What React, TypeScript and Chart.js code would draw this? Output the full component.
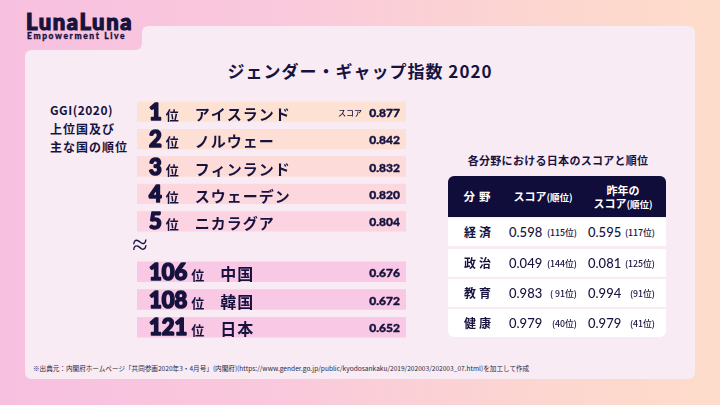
import React, { useEffect, useRef } from "react";
import { Chart, registerables } from "chart.js";

Chart.register(...registerables);

// ---- data ----
const topRanks = [1, 2, 3, 4, 5];
const topCountries = ["アイスランド", "ノルウェー", "フィンランド", "スウェーデン", "ニカラグア"];
const topScores = [0.877, 0.842, 0.832, 0.82, 0.804];
const topBand = [1, 1, 1, 1, 1];

const lowRanks = [106, 108, 121];
const lowCountries = ["中国", "韓国", "日本"];
const lowScores = [0.676, 0.672, 0.652];
const lowBand = [1, 1, 1];

const fields = ["経済", "政治", "教育", "健康"];
const score2020 = ["0.598", "0.049", "0.983", "0.979"];
const rank2020 = ["(115位)", "(144位)", "( 91位)", "(40位)"];
const scorePrev = ["0.595", "0.081", "0.994", "0.979"];
const rankPrev = ["(117位)", "(125位)", "(91位)", "(41位)"];

const NAVY = "#17133f";
const JP = '"Noto Sans CJK JP", "Noto Sans", sans-serif';
const topColors = ["#fde2d3", "#fddfd6", "#fcdbd9", "#fcd7dd", "#fbd3e1"];
const lowColors = ["#f9c8e4", "#f9c8e4", "#f9c8e4"];

const rowLabels = {
  id: "rowLabels",
  afterDatasetsDraw(chart: any, _args: any, opts: any) {
    const { ctx, chartArea } = chart;
    const meta = chart.getDatasetMeta(0);
    const { ranks, names, scores, scoreLabel, nameSize } = opts;
    meta.data.forEach((bar: any, i: number) => {
      const y = bar.y;
      const base = y + 8;
      ctx.save();
      ctx.fillStyle = NAVY;
      ctx.strokeStyle = NAVY;
      ctx.lineJoin = "round";
      ctx.textBaseline = "alphabetic";
      ctx.textAlign = "left";
      const x0 = chartArea.left + 12;
      ctx.font = "900 22px Lato";
      const r = String(ranks[i]);
      ctx.lineWidth = 1.6;
      ctx.fillText(r, x0, base);
      ctx.strokeText(r, x0, base);
      const w = ctx.measureText(r).width;
      ctx.font = `700 13px ${JP}`;
      const xi = x0 + w + 4;
      ctx.fillText("位", xi, base);
      const wi = ctx.measureText("位").width;
      ctx.font = `700 ${nameSize}px ${JP}`;
      (ctx as any).letterSpacing = "1px";
      ctx.fillText(names[i], xi + wi + 16, base);
      (ctx as any).letterSpacing = "0px";
      ctx.textAlign = "right";
      ctx.font = "900 12px Lato";
      ctx.lineWidth = 0.4;
      ctx.fillText(scores[i].toFixed(3), chartArea.right - 6, y + 5);
      ctx.strokeText(scores[i].toFixed(3), chartArea.right - 6, y + 5);
      if (i === 0 && scoreLabel) {
        ctx.font = `500 8px ${JP}`;
        ctx.fillText(scoreLabel, chartArea.right - 44, y + 4);
      }
      ctx.restore();
    });
  },
};

function BarBlock(props: {
  ranks: number[];
  names: string[];
  scores: number[];
  band: number[];
  colors: string[];
  scoreLabel: string;
  nameSize: number;
  left: number;
  top: number;
  width: number;
  height: number;
}) {
  const ref = useRef<HTMLCanvasElement | null>(null);
  useEffect(() => {
    if (!ref.current) return;
    const chart = new Chart(ref.current, {
      type: "bar",
      data: {
        labels: props.names,
        datasets: [
          {
            data: props.band,
            backgroundColor: props.colors,
            borderWidth: 0,
            barPercentage: 0.74,
            categoryPercentage: 1,
          },
        ],
      },
      options: {
        indexAxis: "y",
        responsive: false,
        maintainAspectRatio: false,
        animation: false,
        layout: { padding: 0 },
        scales: {
          x: { display: false, min: 0, max: 1 },
          y: { display: false },
        },
        plugins: {
          legend: { display: false },
          tooltip: { enabled: false },
          rowLabels: {
            ranks: props.ranks,
            names: props.names,
            scores: props.scores,
            scoreLabel: props.scoreLabel,
            nameSize: props.nameSize,
          },
        } as any,
      },
      plugins: [rowLabels],
    });
    return () => chart.destroy();
  }, []);
  return (
    <canvas
      ref={ref}
      width={props.width}
      height={props.height}
      style={{ position: "absolute", left: props.left, top: props.top, width: props.width, height: props.height }}
    />
  );
}

function T(props: { x: number; y: number; children: any; style?: any; align?: "left" | "center" | "right" }) {
  const align = props.align || "left";
  const tx = align === "center" ? "-50%" : align === "right" ? "-100%" : "0";
  return (
    <div
      style={{
        position: "absolute",
        left: props.x,
        top: props.y,
        transform: `translate(${tx}, -50%)`,
        lineHeight: 1,
        whiteSpace: "nowrap",
        color: NAVY,
        fontFamily: JP,
        ...props.style,
      }}
    >
      {props.children}
    </div>
  );
}

const BG = "linear-gradient(90deg, #f7c0e0 0%, #fac9dc 40%, #fcd6d0 75%, #fedcca 100%)";

export default function App() {
  const L = 25, T1 = 50, S = 142, T0 = 26, R = 695, B = 379, r = 7;
  const cardPath = `M ${L} ${T1 + r} Q ${L} ${T1} ${L + r} ${T1} H ${S - r} Q ${S} ${T1} ${S} ${T1 - r} V ${T0 + r} Q ${S} ${T0} ${S + r} ${T0} H ${R - r} Q ${R} ${T0} ${R} ${T0 + r} V ${B - r} Q ${R} ${B} ${R - r} ${B} H ${L + r} Q ${L} ${B} ${L} ${B - r} Z`;
  const rowTops = [218, 249, 279, 309];
  return (
    <div style={{ position: "fixed", left: 0, top: 0, width: 720, height: 405, overflow: "hidden", background: BG }}>
      <svg width={720} height={405} style={{ position: "absolute", left: 0, top: 0 }}>
        <path d={cardPath} fill="#f8ebf4" />
      </svg>

      {/* logo */}
      <T x={26} y={22} style={{ fontFamily: "Lato", fontWeight: 900, fontSize: 22, letterSpacing: 1.6, WebkitTextStroke: "1.2px " + NAVY }}>LunaLuna</T>
      <T x={27} y={36} style={{ fontFamily: "Lato", fontWeight: 900, fontSize: 8.5, letterSpacing: 1.6, WebkitTextStroke: "0.3px " + NAVY }}>Empowerment Live</T>

      {/* title */}
      <T x={360} y={70} align="center" style={{ fontWeight: 700, fontSize: 17, letterSpacing: 1 }}>
        ジェンダー・ギャップ指数 2020
      </T>

      {/* left label */}
      <T x={50} y={110} style={{ fontWeight: 700, fontSize: 12, letterSpacing: 0.5 }}>GGI(2020)</T>
      <T x={50} y={129} style={{ fontWeight: 700, fontSize: 12, letterSpacing: 1 }}>上位国及び</T>
      <T x={50} y={147} style={{ fontWeight: 700, fontSize: 12, letterSpacing: 1 }}>主な国の順位</T>

      <BarBlock ranks={topRanks} names={topCountries} scores={topScores} band={topBand} colors={topColors}
        scoreLabel="スコア" nameSize={15} left={137} top={98} width={269} height={137} />
      <T x={140} y={245} align="center" style={{ fontFamily: "DejaVu Sans", fontWeight: 300, fontSize: 28 }}>≈</T>
      <BarBlock ranks={lowRanks} names={lowCountries} scores={lowScores} band={lowBand} colors={lowColors}
        scoreLabel="" nameSize={16} left={137} top={258} width={269} height={83} />

      {/* right table */}
      <T x={558} y={160} align="center" style={{ fontWeight: 700, fontSize: 11, letterSpacing: 0.3 }}>
        各分野における日本のスコアと順位
      </T>
      <div style={{ position: "absolute", left: 448, top: 176, width: 218, height: 41, background: "#100d3b", borderRadius: "6px 6px 0 0" }} />
      <T x={479} y={197} align="center" style={{ color: "#fff", fontWeight: 700, fontSize: 11.5, letterSpacing: 4 }}>分野</T>
      <T x={543} y={197} align="center" style={{ color: "#fff", fontWeight: 700, fontSize: 11 }}>
        スコア<span style={{ fontSize: 9.5 }}>(順位)</span>
      </T>
      <T x={623} y={190} align="center" style={{ color: "#fff", fontWeight: 700, fontSize: 11 }}>昨年の</T>
      <T x={623} y={204} align="center" style={{ color: "#fff", fontWeight: 700, fontSize: 11 }}>
        スコア<span style={{ fontSize: 9.5 }}>(順位)</span>
      </T>
      {fields.map((f, i) => (
        <React.Fragment key={f}>
          <div style={{ position: "absolute", left: 448, top: rowTops[i], width: 218, height: 28, background: "#ffffff",
            borderRadius: i === fields.length - 1 ? "0 0 6px 6px" : 0 }} />
          <T x={479} y={rowTops[i] + 14} align="center" style={{ fontWeight: 700, fontSize: 12, letterSpacing: 3 }}>{f}</T>
          <T x={509} y={rowTops[i] + 14} style={{ fontFamily: "Lato", fontWeight: 500, fontSize: 13 }}>{score2020[i]}</T>
          <T x={577} y={rowTops[i] + 15} align="right" style={{ fontWeight: 500, fontSize: 8.8 }}>{rank2020[i]}</T>
          <T x={588} y={rowTops[i] + 14} style={{ fontFamily: "Lato", fontWeight: 500, fontSize: 13 }}>{scorePrev[i]}</T>
          <T x={655} y={rowTops[i] + 15} align="right" style={{ fontWeight: 500, fontSize: 8.8 }}>{rankPrev[i]}</T>
        </React.Fragment>
      ))}

      {/* footer */}
      <T x={33} y={368} style={{ fontSize: 6.6, color: "#2b2a3c" }}>
        ※出典元：内閣府ホームページ「共同参画2020年3・4月号」(内閣府)(https://www.gender.go.jp/public/kyodosankaku/2019/202003/202003_07.html)を加工して作成
      </T>
    </div>
  );
}
